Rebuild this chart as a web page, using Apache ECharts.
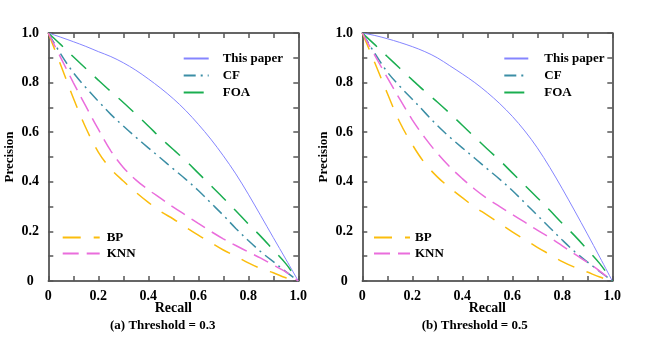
<!DOCTYPE html>
<html>
<head>
<meta charset="utf-8">
<script src="https://cdn.jsdelivr.net/npm/echarts@6/dist/echarts.min.js"></script>
<style>
  html, body { margin: 0; padding: 0; background: #fff; }
  #chart { width: 646px; height: 337px; }
</style>
</head>
<body>
<div id="chart"></div>
<script>
// Shared recall grid for all precision-recall curves
const recall = [0, 0.05, 0.1, 0.15, 0.2, 0.25, 0.3, 0.35, 0.4, 0.45, 0.5,
                0.55, 0.6, 0.65, 0.7, 0.75, 0.8, 0.85, 0.9, 0.95, 1];

const tickLabels = ['0', '0.2', '0.4', '0.6', '0.8', '1.0'];
const seriesNames = ['This paper', 'CF', 'FOA', 'BP', 'KNN'];
const captions = ['(a) Threshold = 0.3', '(b) Threshold = 0.5'];

// (a) Threshold = 0.3
const thisPaperA = [1, 0.983, 0.965, 0.946, 0.925, 0.905, 0.88, 0.85, 0.815, 0.777, 0.735,
                    0.687, 0.632, 0.572, 0.505, 0.432, 0.35, 0.263, 0.175, 0.088, 0];
const cfA  = [1, 0.915, 0.84, 0.78, 0.725, 0.672, 0.625, 0.58, 0.537, 0.495, 0.452,
              0.41, 0.365, 0.315, 0.265, 0.212, 0.163, 0.118, 0.078, 0.038, 0];
const foaA = [1, 0.953, 0.904, 0.857, 0.81, 0.764, 0.72, 0.673, 0.625, 0.576, 0.53,
              0.485, 0.435, 0.385, 0.335, 0.283, 0.23, 0.18, 0.125, 0.07, 0];
const bpA  = [1, 0.87, 0.738, 0.618, 0.52, 0.452, 0.403, 0.358, 0.317, 0.28, 0.25,
              0.217, 0.185, 0.155, 0.125, 0.1, 0.073, 0.05, 0.033, 0.013, 0];
const knnA = [1, 0.9, 0.8, 0.705, 0.612, 0.525, 0.458, 0.408, 0.368, 0.333, 0.298,
              0.265, 0.232, 0.2, 0.17, 0.143, 0.117, 0.092, 0.064, 0.037, 0];

// (b) Threshold = 0.5
const thisPaperB = [1, 0.99, 0.977, 0.962, 0.945, 0.925, 0.9, 0.868, 0.835, 0.8, 0.76,
                    0.715, 0.664, 0.605, 0.537, 0.458, 0.372, 0.282, 0.19, 0.096, 0];
const cfB  = [1, 0.918, 0.843, 0.785, 0.733, 0.68, 0.627, 0.58, 0.537, 0.495, 0.452,
              0.41, 0.365, 0.315, 0.265, 0.215, 0.165, 0.118, 0.077, 0.038, 0];
const foaB = [1, 0.953, 0.905, 0.858, 0.811, 0.765, 0.722, 0.676, 0.628, 0.58, 0.532,
              0.486, 0.436, 0.386, 0.336, 0.285, 0.232, 0.182, 0.127, 0.07, 0];
const bpB  = [1, 0.88, 0.757, 0.64, 0.55, 0.475, 0.42, 0.376, 0.336, 0.298, 0.266,
              0.232, 0.198, 0.167, 0.136, 0.107, 0.078, 0.055, 0.036, 0.016, 0];
const knnB = [1, 0.91, 0.82, 0.733, 0.65, 0.578, 0.515, 0.46, 0.413, 0.37, 0.332,
              0.3, 0.268, 0.237, 0.205, 0.175, 0.142, 0.108, 0.075, 0.04, 0];

const panels = [
  [thisPaperA, cfA, foaA, bpA, knnA],
  [thisPaperB, cfB, foaB, bpB, knnB]
];

const FONT = '"Liberation Serif", "Times New Roman", serif';
const styles = [
  { color: '#8585ff', width: 1,   type: 'solid' },
  { color: '#3b8ea5', width: 1.5, type: [12, 5, 2, 5] },
  { color: '#1aae50', width: 1.5, type: [20, 12] },
  { color: '#fbbd0d', width: 1.5, type: [18, 13] },
  { color: '#ea6ddc', width: 1.5, type: [16, 8] }
];

const gridLefts = [48.3, 362.3];
const grids = gridLefts.map(l => ({ left: l, top: 33, width: 250, height: 248 }));

const labelFmt = v => {
  const i = Math.round(v * 10);
  return i % 2 === 0 ? tickLabels[i / 2] : '';
};
const lineSt = { color: '#333', width: 1.5 };
const tickSt = { show: true, inside: true, length: 5, lineStyle: { color: '#555', width: 1.5 } };
const txt = { color: '#000', fontFamily: FONT, fontWeight: 'bold' };

const xAxis = [], yAxis = [], series = [];
grids.forEach((g, gi) => {
  xAxis.push({
    gridIndex: gi, type: 'value', min: 0, max: 1, interval: 0.1, position: 'bottom',
    axisLine: { show: true, onZero: false, lineStyle: lineSt },
    axisTick: tickSt, splitLine: { show: false },
    axisLabel: Object.assign({ formatter: labelFmt, margin: 8, fontSize: 14 }, txt),
    name: 'Recall', nameLocation: 'middle', nameGap: 20, nameMoveOverlap: false,
    nameTextStyle: Object.assign({ fontSize: 14 }, txt)
  });
  xAxis.push({
    gridIndex: gi, type: 'value', min: 0, max: 1, interval: 0.1, position: 'top',
    axisLine: { show: true, onZero: false, lineStyle: lineSt },
    axisTick: tickSt, splitLine: { show: false }, axisLabel: { show: false }
  });
  yAxis.push({
    gridIndex: gi, type: 'value', min: 0, max: 1, interval: 0.1, position: 'left',
    axisLine: { show: true, onZero: false, lineStyle: lineSt },
    axisTick: tickSt, splitLine: { show: false },
    axisLabel: Object.assign({ formatter: labelFmt, margin: 18, align: 'center', fontSize: 14 }, txt),
    name: 'Precision', nameLocation: 'middle', nameGap: 32, nameMoveOverlap: false,
    nameTextStyle: Object.assign({ fontSize: 13 }, txt)
  });
  yAxis.push({
    gridIndex: gi, type: 'value', min: 0, max: 1, interval: 0.1, position: 'right',
    axisLine: { show: true, onZero: false, lineStyle: lineSt },
    axisTick: tickSt, splitLine: { show: false }, axisLabel: { show: false }
  });
  panels[gi].forEach((vals, si) => {
    series.push({
      name: seriesNames[si], type: 'line',
      xAxisIndex: gi * 2, yAxisIndex: gi * 2,
      data: recall.map((r, k) => [r, vals[k]]),
      symbol: 'none', smooth: 0.35,
      color: styles[si].color,
      lineStyle: { color: styles[si].color, width: styles[si].width, type: styles[si].type },
      animation: false
    });
  });
});

const legendText = Object.assign({ fontSize: 13 }, txt);
const legend = [
  { data: seriesNames.slice(0, 3), left: 182.7, top: 52, itemWidth: 25, itemHeight: 14, itemGap: 4,
    textStyle: Object.assign({ padding: [0, 0, 0, 9] }, legendText) },
  { data: seriesNames.slice(0, 3), left: 503.3, top: 52, itemWidth: 24, itemHeight: 14, itemGap: 4,
    textStyle: Object.assign({ padding: [0, 0, 0, 11] }, legendText) },
  { data: seriesNames.slice(3), left: 61.7, top: 231, itemWidth: 37, itemHeight: 14, itemGap: 3,
    textStyle: Object.assign({ padding: [0, 0, 0, 2] }, legendText) },
  { data: seriesNames.slice(3), left: 373, top: 231, itemWidth: 36, itemHeight: 14, itemGap: 3,
    textStyle: Object.assign({ padding: [0, 0, 0, 0] }, legendText) }
].map(l => Object.assign({
  orient: 'vertical', selectedMode: false, padding: 0,
  itemStyle: { opacity: 0 }
}, l));

const captionX = [162.7, 474.7];
const graphic = captions.map((c, i) => ({
  type: 'text', x: captionX[i], y: 326,
  style: { text: c, align: 'center', verticalAlign: 'middle',
           font: 'bold 13px ' + FONT, fill: '#000' }
}));

const chart = echarts.init(document.getElementById('chart'), null, { renderer: 'canvas' });
chart.setOption({
  animation: false,
  backgroundColor: '#fff',
  grid: grids, xAxis, yAxis, series, legend, graphic
});
</script>
</body>
</html>
